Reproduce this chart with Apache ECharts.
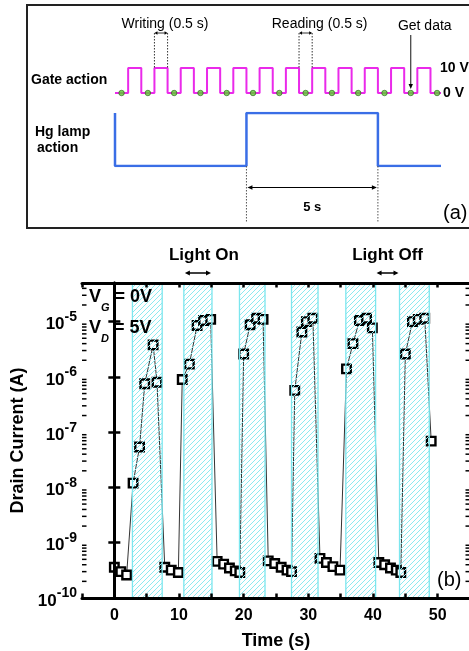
<!DOCTYPE html>
<html><head><meta charset="utf-8">
<script src="https://cdn.jsdelivr.net/npm/echarts@6/dist/echarts.min.js"></script>
<style>html,body{margin:0;padding:0;background:#fff}#c{width:469px;height:651px}</style>
</head><body><div id="c"></div>
<script>
// ---------- panel (b) data ----------
const timeS = [0, 1.0, 1.9, 2.9, 3.9, 4.7, 6.0, 6.6, 7.8, 8.8, 9.9,
  10.5, 11.6, 12.8, 13.8, 14.9, 15.9, 16.9, 17.8, 18.7, 19.4,
  20.0, 21.0, 22.0, 23.0, 23.8, 24.8, 25.8, 26.7, 27.4,
  27.9, 29.0, 29.7, 30.7, 31.8, 32.8, 33.8, 34.9,
  35.9, 36.9, 37.9, 39.0, 39.9, 40.9, 41.8, 42.7, 43.6, 44.3,
  45.0, 46.1, 47.0, 48.0, 49.0];
const drainCurrentA = [3.6e-10, 3.0e-10, 2.6e-10, 1.2e-8, 5.4e-8, 7.5e-7, 3.8e-6, 8.0e-7, 3.6e-10, 3.2e-10, 2.9e-10,
  9.0e-7, 1.7e-6, 8.5e-6, 1.05e-5, 1.1e-5, 4.6e-10, 4.1e-10, 3.5e-10, 3.1e-10, 2.9e-10,
  2.6e-6, 8.8e-6, 1.15e-5, 1.1e-5, 4.7e-10, 4.2e-10, 3.6e-10, 3.2e-10, 3.0e-10,
  5.7e-7, 6.5e-6, 1.0e-5, 1.15e-5, 5.2e-10, 4.4e-10, 3.7e-10, 3.2e-10,
  1.4e-6, 4.0e-6, 1.05e-5, 1.15e-5, 7.7e-6, 4.4e-10, 4.0e-10, 3.5e-10, 3.2e-10, 2.9e-10,
  2.6e-6, 1.0e-5, 1.1e-5, 1.15e-5, 6.9e-8];
const lightOnStart = [2.8, 10.75, 19.35, 27.4, 35.8, 44.1];
const lightOnEnd   = [7.4, 15.1, 23.3, 31.5, 40.4, 48.7];
const xTickLabels = ['0', '10', '20', '30', '40', '50'];
const yMinA = 1e-10, yMaxA = 5e-5;
const minorMantissas = [2, 3, 4, 5, 6, 7, 8, 9];
const decadeExponents = [-10, -9, -8, -7, -6, -5];

// ---------- panel (a) schematic ----------
const gateTimes = [0, 0.5, 1, 1.5, 2, 2.5, 3, 3.5, 4, 4.5, 5, 5.5, 6, 6.5, 7, 7.5, 8, 8.5, 9, 9.5, 10, 10.5, 11, 11.5, 12, 12.4];
const gateVolts = [0, 10, 0, 10, 0, 10, 0, 10, 0, 10, 0, 10, 0, 10, 0, 10, 0, 10, 0, 10, 0, 10, 0, 10, 0, 0];
const readTimes = [0.25, 1.25, 2.25, 3.25, 4.25, 5.25, 6.25, 7.25, 8.25, 9.25, 10.25, 11.25, 12.25];
const lampTimes = [0, 0, 5, 5, 10, 10, 12.4];
const lampLevels = [1, 0, 0, 1, 1, 0, 0];
const writeWindow = [1.5, 2.0];
const readWindow = [7.0, 7.5];
const getDataTime = 11.25;
const lampOnWindow = [5, 10];

const FF = '"Liberation Sans", Arial, Helvetica, sans-serif';

function makeHatch() {
  const s = 5, c = document.createElement('canvas');
  c.width = s; c.height = s;
  const g = c.getContext('2d');
  g.strokeStyle = '#8ceaf0'; g.lineWidth = 1;
  g.beginPath();
  g.moveTo(0, s); g.lineTo(s, 0);
  g.moveTo(-1, 1); g.lineTo(1, -1);
  g.moveTo(s - 1, s + 1); g.lineTo(s + 1, s - 1);
  g.stroke();
  return c;
}
const hatch = makeHatch();

// minor log tick positions (axis decoration)
const minorTickValues = [];
decadeExponents.forEach(e => minorMantissas.forEach(m => {
  const v = m * Math.pow(10, e);
  if (v < yMaxA) minorTickValues.push(v);
}));

const chart = echarts.init(document.getElementById('c'), null, {renderer: 'canvas'});

const logAxisCommon = {
  type: 'log', logBase: 10, min: yMinA, max: yMaxA, gridIndex: 0, z: 10,
  axisLine: {show: true, lineStyle: {color: '#000', width: 3}},
  axisTick: {show: true, inside: true, length: 6, lineStyle: {color: '#000', width: 2.5}},
  splitLine: {show: false}
};
const xAxisCommon = {
  type: 'value', min: -5, max: 55, interval: 5, gridIndex: 0, z: 10,
  axisLine: {show: true, onZero: false, lineStyle: {color: '#000', width: 3}},
  axisTick: {show: true, inside: true, length: 4.5, lineStyle: {color: '#000', width: 2.5}},
  splitLine: {show: false}
};

const option = {
  animation: false,
  backgroundColor: '#fff',
  grid: [
    {left: 82, top: 283, right: -1, bottom: 53, outerBoundsMode: 'none', containLabel: false},
    {left: 115, top: 68, right: 28, height: 25, outerBoundsMode: 'none', containLabel: false},
    {left: 115, top: 113, right: 28, height: 53, outerBoundsMode: 'none', containLabel: false}
  ],
  xAxis: [
    Object.assign({}, xAxisCommon, {
      position: 'bottom',
      axisLabel: {formatter: v => xTickLabels.indexOf(String(v)) >= 0 ? String(v) : '',
        fontSize: 16, fontWeight: 'bold', color: '#000', margin: 10, fontFamily: FF},
      name: 'Time (s)', nameLocation: 'middle', nameGap: 34,
      nameTextStyle: {fontSize: 18, fontWeight: 'bold', color: '#000', fontFamily: FF}
    }),
    Object.assign({}, xAxisCommon, {position: 'top', axisLabel: {show: false}}),
    {type: 'value', gridIndex: 1, min: 0, max: 12.4, show: false},
    {type: 'value', gridIndex: 2, min: 0, max: 12.4, show: false}
  ],
  yAxis: [
    Object.assign({}, logAxisCommon, {
      position: 'left',
      axisLabel: {
        showMaxLabel: false, margin: 5,
        formatter: v => '{b|10}{s|' + Math.round(Math.log10(v)) + '}',
        rich: {
          b: {fontSize: 17, fontWeight: 'bold', color: '#000', fontFamily: FF, lineHeight: 23, verticalAlign: 'bottom'},
          s: {fontSize: 14, fontWeight: 'bold', color: '#000', fontFamily: FF, lineHeight: 23, verticalAlign: 'top'}
        }
      },
      name: 'Drain Current (A)', nameLocation: 'middle', nameGap: 49,
      nameTextStyle: {fontSize: 18, fontWeight: 'bold', color: '#000', fontFamily: FF}
    }),
    Object.assign({}, logAxisCommon, {position: 'right', axisLabel: {show: false}}),
    {type: 'value', gridIndex: 1, min: 0, max: 10, show: false},
    {type: 'value', gridIndex: 2, min: 0, max: 1, show: false}
  ],
  series: [
    {
      type: 'line', xAxisIndex: 0, yAxisIndex: 0, z: 2,
      data: timeS.map((t, i) => [t, drainCurrentA[i]]),
      symbol: 'rect', symbolSize: 8.5, showAllSymbol: true,
      lineStyle: {color: '#000', width: 0.8},
      itemStyle: {color: '#fff', borderColor: '#000', borderWidth: 2.4}
    },
    {
      type: 'custom', xAxisIndex: 0, yAxisIndex: 0, z: 4,
      data: lightOnStart.map((s, i) => [s, lightOnEnd[i], yMinA, yMaxA]),
      encode: {x: [0, 1], y: [2, 3]},
      renderItem: (params, api) => {
        const p0 = api.coord([api.value(0), api.value(3)]);
        const p1 = api.coord([api.value(1), api.value(2)]);
        return {type: 'rect',
          shape: {x: p0[0], y: p0[1], width: p1[0] - p0[0], height: p1[1] - p0[1]},
          style: {fill: {image: hatch, repeat: 'repeat'}, stroke: '#7ce6ee', lineWidth: 1.3}};
      }
    },
    {
      // minor log ticks on left and right axes
      type: 'custom', xAxisIndex: 0, yAxisIndex: 0, z: 12, silent: true,
      data: minorTickValues.map(v => [0, v]),
      encode: {x: 0, y: 1},
      renderItem: (params, api) => {
        const cs = params.coordSys;
        const y = api.coord([0, api.value(1)])[1];
        const st = {stroke: '#000', lineWidth: 1.5};
        return {type: 'group', children: [
          {type: 'line', shape: {x1: cs.x, y1: y, x2: cs.x + 4.5, y2: y}, style: st},
          {type: 'line', shape: {x1: cs.x + cs.width, y1: y, x2: cs.x + cs.width - 4.5, y2: y}, style: st}
        ]};
      }
    },
    {
      type: 'line', xAxisIndex: 2, yAxisIndex: 2, step: 'end', symbol: 'none',
      data: gateTimes.map((t, i) => [t, gateVolts[i]]),
      lineStyle: {color: '#ea2aea', width: 2}
    },
    {
      type: 'scatter', xAxisIndex: 2, yAxisIndex: 2, z: 5,
      data: readTimes.map(t => [t, 0]), symbolSize: 5.5,
      itemStyle: {color: '#5ccc2e', borderColor: '#2a5a1a', borderWidth: 0.8}
    },
    {
      type: 'line', xAxisIndex: 3, yAxisIndex: 3, symbol: 'none',
      data: lampTimes.map((t, i) => [t, lampLevels[i]]),
      lineStyle: {color: '#3a6ee6', width: 2.5}
    }
  ]
};
chart.setOption(option);

// ---------- annotations ----------
const px = (xi, t) => chart.convertToPixel({xAxisIndex: xi}, t);
const py = (yi, v) => chart.convertToPixel({yAxisIndex: yi}, v);

function txt(x, y, s, size, weight, align, extra) {
  return Object.assign({type: 'text', x: x, y: y, z: 20,
    style: {text: s, fontSize: size, fontWeight: weight || 'normal', fontFamily: FF, fill: '#000',
      align: align || 'left', verticalAlign: 'middle'}}, extra || {});
}
function seg(x0, y0, x1, y1, w, dash, color) {
  return {type: 'line', z: 20, shape: {x1: x0, y1: y0, x2: x1, y2: y1},
    style: {stroke: color || '#000', lineWidth: w || 1, lineDash: dash || null}};
}
function head(x, y, dir, L, H) {
  L = L || 5; H = H || 2.5;
  let pts;
  if (dir === 'l') pts = [[x, y], [x + L, y - H], [x + L, y + H]];
  else if (dir === 'r') pts = [[x, y], [x - L, y - H], [x - L, y + H]];
  else pts = [[x, y], [x - H, y - L], [x + H, y - L]];
  return {type: 'polygon', z: 20, shape: {points: pts}, style: {fill: '#000'}};
}
function dbl(x0, x1, y, w, L, H) {
  return [seg(x0 + 2, y, x1 - 2, y, w || 1), head(x0, y, 'l', L, H), head(x1, y, 'r', L, H)];
}
function subText(x, y, main, sub, rest) {
  return {type: 'text', x: x, y: y, z: 20, style: {text: '{v|' + main + '}{g|' + sub + '}{v|' + rest + '}',
    rich: {v: {fontSize: 18, fontWeight: 'bold', fontFamily: FF, fill: '#000', lineHeight: 25, verticalAlign: 'top'},
           g: {fontSize: 11, fontWeight: 'bold', fontStyle: 'italic', fontFamily: FF, fill: '#000', lineHeight: 25, verticalAlign: 'bottom'}}}};
}

const g = [];
// panel (a) frame
g.push({type: 'rect', z: 1, shape: {x: 27, y: 5, width: 470, height: 223}, style: {fill: 'none', stroke: '#222', lineWidth: 2}});
g.push(txt(31, 80, 'Gate action', 14, 'bold'));
g.push(txt(35, 132, 'Hg lamp', 14, 'bold'));
g.push(txt(37, 148.5, 'action', 14, 'bold'));
const gHigh = py(2, 10), gLow = py(2, 0);
g.push(txt(440, gHigh, '10 V', 14, 'bold'));
g.push(txt(443, gLow, '0 V', 14, 'bold'));
// writing
const w0 = px(2, writeWindow[0]), w1 = px(2, writeWindow[1]);
g.push(seg(w0, 33, w0, gHigh, 1, [1.5, 1.5], '#333'), seg(w1, 33, w1, gHigh, 1, [1.5, 1.5], '#333'));
g.push(...dbl(w0, w1, 33, 0.8, 3, 1.8));
g.push(txt((w0 + w1) / 2 + 4, 24.5, 'Writing (0.5 s)', 14, 'normal', 'center'));
// reading
const r0 = px(2, readWindow[0]), r1 = px(2, readWindow[1]);
g.push(seg(r0, 33, r0, gHigh, 1, [1.5, 1.5], '#333'), seg(r1, 33, r1, gHigh, 1, [1.5, 1.5], '#333'));
g.push(...dbl(r0, r1, 33, 0.8, 3, 1.8));
g.push(txt((r0 + r1) / 2 + 14, 24.5, 'Reading (0.5 s)', 14, 'normal', 'center'));
// get data
const gd = px(2, getDataTime);
g.push(seg(gd, 35, gd, gLow - 8, 1, null, '#111'), head(gd, gLow - 4, 'd', 5, 2.2));
g.push(txt(gd + 14, 26.5, 'Get data', 14, 'normal', 'center'));
// lamp 5 s
const lLow = py(3, 0);
const l0 = px(3, lampOnWindow[0]), l1 = px(3, lampOnWindow[1]);
g.push(seg(l0, lLow, l0, 223, 1, [1.5, 1.5], '#555'), seg(l1, lLow, l1, 223, 1, [1.5, 1.5], '#555'));
g.push(...dbl(l0 + 1, l1 - 1, 187.5, 1, 5, 2.2));
g.push(txt((l0 + l1) / 2, 207, '5 s', 13, 'bold', 'center'));
g.push(txt(443, 213, '(a)', 20, 'normal'));

// panel (b)
g.push(subText(89, 288, 'V', 'G', ' = 0V'));
g.push(subText(89, 319, 'V', 'D', ' = 5V'));
g.push(txt(437, 580, '(b)', 20, 'normal'));
const on0 = px(0, lightOnStart[1]), on1 = px(0, lightOnEnd[1]);
g.push(txt((on0 + on1) / 2 + 6, 255, 'Light On', 17, 'bold', 'center'));
g.push(...dbl(on0 + 1, on1 - 1, 273, 1.5, 5, 2.5));
const off0 = px(0, lightOnEnd[4]), off1 = px(0, lightOnStart[5]);
g.push(txt((off0 + off1) / 2, 255, 'Light Off', 17, 'bold', 'center'));
g.push(...dbl(off0 + 1, off1 - 1, 273, 1.5, 5, 2.5));

chart.setOption({graphic: g});
</script></body></html>
